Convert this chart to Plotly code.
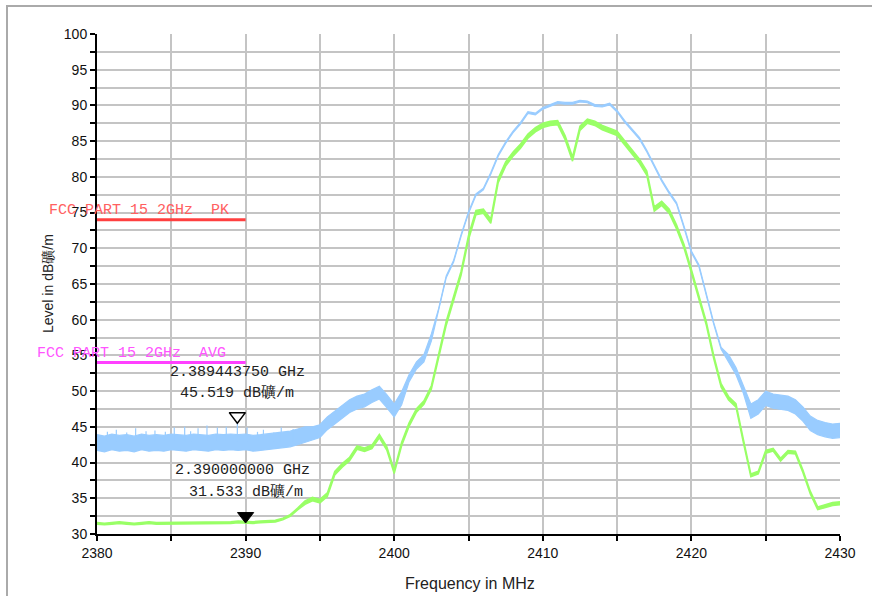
import plotly.graph_objects as go

# ---------------- data ----------------
freq = [2380 + 0.5 * i for i in range(101)]

peak_level = [
    42.8, 42.6, 42.9, 42.7, 42.8, 42.6, 42.9, 42.7, 42.8, 42.7,
    42.9, 42.8, 42.7, 42.9, 42.8, 42.7, 42.9, 42.8, 42.9, 42.8,
    42.9, 42.7, 42.8, 42.9, 43.0, 43.1, 43.3, 43.6, 43.9, 44.1,
    44.4, 45.5, 46.3, 47.1, 47.9, 48.4, 48.7, 49.3, 49.8, 48.6,
    47.3, 49.0, 51.8, 53.6, 54.6, 57.5, 61.5, 66.0, 68.2, 71.8,
    75.0, 77.5, 78.3, 80.5, 83.0, 84.8, 86.3, 87.5, 89.0, 88.8,
    89.6, 90.0, 90.4, 90.3, 90.3, 90.6, 90.5, 90.0, 89.9, 90.2,
    89.2, 87.8, 86.6, 85.4, 83.6, 81.6, 79.5, 77.8, 76.3, 73.0,
    69.5, 67.6, 63.5, 59.5, 56.0, 54.6, 52.8, 50.2, 47.2, 47.8,
    49.0, 48.6, 48.4, 48.3, 47.8, 46.8, 45.5, 44.9, 44.6, 44.4,
    44.5,
]
peak_spread = [1.1] * 29 + [0.9] * 13 + [0.5] * 4 + [0.12] * 39 + [0.5] * 3 + [1.0] * 13

avg_level = [
    31.5, 31.4, 31.5, 31.6, 31.5, 31.4, 31.5, 31.6, 31.5, 31.5,
    31.6, 31.5, 31.6, 31.5, 31.6, 31.6, 31.5, 31.6, 31.6, 31.7,
    31.6, 31.6, 31.7, 31.7, 31.8, 32.1, 32.6, 33.5, 34.4, 34.9,
    34.6, 35.5, 38.5, 39.6, 40.5, 42.1, 41.8, 42.2, 43.7, 42.0,
    38.7, 42.6, 45.3, 47.3, 48.4, 50.5, 55.0, 59.5, 63.0, 66.5,
    71.5, 75.0, 75.2, 73.8, 79.5, 81.8, 83.2, 84.3, 85.7, 86.6,
    87.2, 87.5, 87.6, 85.5, 82.5, 86.8, 87.8, 87.5, 86.9, 86.5,
    86.1, 84.8, 83.5, 82.2, 80.5, 75.5, 76.3, 75.2, 73.0, 70.3,
    66.8, 63.0, 59.5, 54.8, 50.8, 49.0, 48.0, 43.0, 38.2, 38.6,
    41.5, 41.8, 40.4, 41.5, 41.4, 38.8, 35.8, 33.6, 33.9, 34.2,
    34.3,
]
avg_spread = [0.12] * 28 + [0.25] * 18 + [0.3] * 33 + [0.25] * 9 + [0.2] * 13

# isolated upward spikes of the peak trace
spike_freq = [2380.7, 2381.3, 2382.0, 2382.6, 2383.3, 2383.9, 2384.6, 2385.2, 2385.9,
              2386.3, 2386.8, 2387.4, 2388.1, 2388.7, 2389.44375, 2390.1, 2390.8,
              2391.2, 2391.9, 2392.4, 2393.2]
spike_level = [44.3, 44.6, 44.2, 44.8, 44.4, 44.5, 44.3, 44.9, 45.0,
               44.4, 44.8, 45.2, 44.9, 45.0, 45.519, 44.9, 44.3,
               44.6, 44.2, 44.9, 44.7]
spike_base = 43.0

pk_limit_freq = [2380, 2390]
pk_limit_level = [74, 74]
avg_limit_freq = [2380, 2390]
avg_limit_level = [54, 54]

marker1_freq, marker1_level = 2389.44375, 45.519
marker1_text = ["2.389443750 GHz", "45.519 dB礦/m"]
marker2_freq, marker2_level = 2390.0, 31.533
marker2_text = ["2.390000000 GHz", "31.533 dB礦/m"]

x_tickvals = [2380, 2385, 2390, 2395, 2400, 2405, 2410, 2415, 2420, 2425, 2430]
x_ticktext = ["2380", "", "2390", "", "2400", "", "2410", "", "2420", "", "2430"]
y_tickvals = [30 + 2.5 * i for i in range(29)]
y_ticktext = [("%d" % v) if v % 5 == 0 else "" for v in y_tickvals]

# ---------------- styles ----------------
BLUE = "#99ccff"
GREEN = "#99ff66"
MONO = "Liberation Mono, Courier New, monospace"
SANS = "Liberation Sans, Arial, sans-serif"

W, H = 872, 596
L, R, T, B = 97, 32, 34, 62
PW, PH = W - L - R, H - T - B


def px_x(p):
    return (p - L) / PW


def px_y(p):
    return (H - B - p) / PH


fig = go.Figure()

# peak trace (band)
fig.add_trace(go.Scatter(x=freq, y=[v - s for v, s in zip(peak_level, peak_spread)],
                         mode="lines", line=dict(color=BLUE, width=1.2), hoverinfo="skip"))
fig.add_trace(go.Scatter(x=freq, y=[v + s for v, s in zip(peak_level, peak_spread)],
                         mode="lines", line=dict(color=BLUE, width=1.2), fill="tonexty",
                         fillcolor=BLUE, hoverinfo="skip"))
sx, sy = [], []
for f, v in zip(spike_freq, spike_level):
    sx += [f, f, None]
    sy += [spike_base, v, None]
fig.add_trace(go.Scatter(x=sx, y=sy, mode="lines", line=dict(color=BLUE, width=1.2),
                         hoverinfo="skip"))

# average trace (band)
fig.add_trace(go.Scatter(x=freq, y=[v - s for v, s in zip(avg_level, avg_spread)],
                         mode="lines", line=dict(color=GREEN, width=1.5), hoverinfo="skip"))
fig.add_trace(go.Scatter(x=freq, y=[v + s for v, s in zip(avg_level, avg_spread)],
                         mode="lines", line=dict(color=GREEN, width=1.5), fill="tonexty",
                         fillcolor=GREEN, hoverinfo="skip"))

# limit lines
fig.add_trace(go.Scatter(x=pk_limit_freq, y=pk_limit_level, mode="lines",
                         line=dict(color="#ff4040", width=3), hoverinfo="skip"))
fig.add_trace(go.Scatter(x=avg_limit_freq, y=avg_limit_level, mode="lines",
                         line=dict(color="#ff40ff", width=3), hoverinfo="skip"))

# markers (tip of the triangle on the value)
tri_size = 14
tip_off = (tri_size / 2) / (PH / 70.0)
fig.add_trace(go.Scatter(x=[marker1_freq], y=[marker1_level + tip_off], mode="markers",
                         marker=dict(symbol="triangle-down-open", size=tri_size, color="black",
                                     line=dict(width=1.5, color="black")), hoverinfo="skip"))
fig.add_trace(go.Scatter(x=[marker2_freq], y=[marker2_level + tip_off], mode="markers",
                         marker=dict(symbol="triangle-down", size=tri_size, color="black",
                                     line=dict(width=1, color="black")), hoverinfo="skip"))

annotations = [
    dict(text="FCC PART 15 2GHz  PK", xref="paper", x=px_x(47), xanchor="left",
         yref="y", y=pk_limit_level[0], yanchor="bottom", yshift=-1, showarrow=False,
         font=dict(family=MONO, size=15, color="#ff6060")),
    dict(text="FCC PART 15 2GHz  AVG", xref="paper", x=px_x(35), xanchor="left",
         yref="y", y=avg_limit_level[0], yanchor="bottom", yshift=-1, showarrow=False,
         font=dict(family=MONO, size=15, color="#ff55ff")),
    dict(text=marker1_text[0], x=marker1_freq, y=marker1_level, xref="x", yref="y",
         yanchor="middle", yshift=51, showarrow=False,
         font=dict(family=MONO, size=15, color="#222222")),
    dict(text=marker1_text[1], x=marker1_freq, y=marker1_level, xref="x", yref="y",
         yanchor="middle", yshift=30, showarrow=False,
         font=dict(family=MONO, size=15, color="#222222")),
    dict(text=marker2_text[0], x=marker2_freq, y=marker2_level, xref="x", yref="y",
         yanchor="middle", xshift=-3, yshift=53, showarrow=False,
         font=dict(family=MONO, size=15, color="#222222")),
    dict(text=marker2_text[1], x=marker2_freq, y=marker2_level, xref="x", yref="y",
         yanchor="middle", yshift=31, showarrow=False,
         font=dict(family=MONO, size=15, color="#222222")),
    dict(text="Frequency in MHz", xref="paper", yref="paper", x=px_x(470), y=px_y(583),
         xanchor="center", yanchor="middle", showarrow=False,
         font=dict(family=SANS, size=16, color="#222222")),
    dict(text="Level in dB礦/m", xref="paper", yref="paper", x=px_x(48), y=0.5,
         xanchor="center", yanchor="middle", textangle=-90, showarrow=False,
         font=dict(family=SANS, size=14, color="#222222")),
]

shapes = [
    dict(type="rect", xref="paper", yref="paper", x0=px_x(7), x1=px_x(900),
         y0=px_y(640), y1=px_y(6), line=dict(color="#aaaaaa", width=2), layer="below"),
]

axis_common = dict(showgrid=True, gridcolor="#c4c4c4", gridwidth=1.5, zeroline=False,
                   showline=True, linecolor="black", linewidth=2, ticks="outside",
                   ticklen=5, tickwidth=2, tickcolor="black", tickmode="array",
                   tickfont=dict(family=SANS, size=14, color="#111111"))

fig.update_layout(
    width=W, height=H, margin=dict(l=L, r=R, t=T, b=B),
    paper_bgcolor="white", plot_bgcolor="white", showlegend=False,
    xaxis=dict(range=[2380, 2430], tickvals=x_tickvals, ticktext=x_ticktext, **axis_common),
    yaxis=dict(range=[30, 100], tickvals=y_tickvals, ticktext=y_ticktext, **axis_common),
    annotations=annotations, shapes=shapes,
)

fig.write_html("out.html", config={"displayModeBar": False},
               post_script="document.body.style.margin='0';document.body.style.overflow='hidden';")
